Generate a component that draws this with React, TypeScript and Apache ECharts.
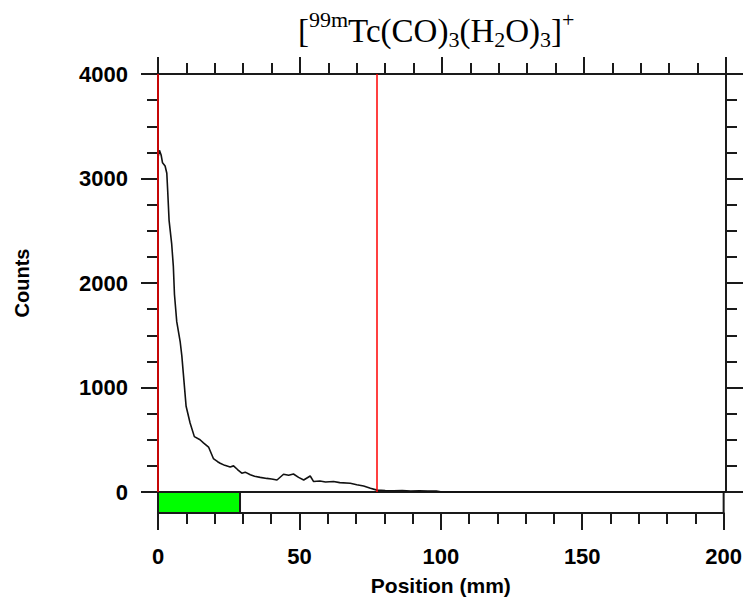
import React, { useEffect, useRef } from "react";
import * as echarts from "echarts";

const positions = [0, 0.5, 1.1, 1.6, 2.5, 3.1, 3.4, 3.9, 4.8, 5.4, 5.8, 6.6, 7.8, 8.4, 8.9, 9.9, 11.3, 12.8, 14.8, 16, 17.8, 19.5, 21, 21.9, 23.5, 25.4, 26.6, 28, 29.5, 30.7, 32.5, 34, 36, 38.3, 40, 41.9, 44.2, 46, 47.7, 49.5, 51.3, 53.6, 54.8, 57, 59, 61.8, 64, 67.7, 70, 72.4, 74.8, 77.1, 80, 83, 86, 89, 92, 95, 98, 100, 200];
const counts = [3200, 3270, 3225, 3150, 3120, 3050, 2890, 2600, 2380, 2160, 1890, 1630, 1440, 1300, 1140, 820, 660, 530, 500, 470, 430, 320, 290, 275, 255, 240, 250, 215, 180, 190, 165, 150, 140, 130, 125, 115, 170, 160, 172, 140, 115, 153, 100, 105, 95, 100, 90, 83, 70, 57, 35, 18, 14, 12, 15, 10, 12, 8, 10, 0, 0];
const regionMarkers = [0, 76.9];
const originBand = [[0, 29]];
const stripRange = [-200, 0];
const xTicks = [0, 50, 100, 150, 200];
const yTicks = [0, 1000, 2000, 3000, 4000];

const AXIS = "#1a1a1a";
const SANS = "Liberation Sans";
const SERIF = "Liberation Serif";

export default function App() {
  const ref = useRef<HTMLDivElement>(null);
  useEffect(() => {
    if (!ref.current) return;
    const chart = echarts.init(ref.current, null, { renderer: "svg" });
    const lineData = positions.map((p, i) => [p, counts[i]]);
    const tickStyle = (len: number) => ({ show: true, length: len, lineStyle: { color: AXIS, width: 2 } });
    const xMin = xTicks[0];
    const xMax = xTicks[xTicks.length - 1];
    const xInt = xTicks[1] - xTicks[0];
    const yMin = yTicks[0];
    const yMax = yTicks[yTicks.length - 1];
    const yInt = yTicks[1] - yTicks[0];
    chart.setOption({
      animation: false,
      backgroundColor: "#ffffff",
      title: {
        text: "{n|[}{sup|99m}{n|Tc(CO)}{sub|3}{n|(H}{sub|2}{n|O)}{sub|3}{n|]}{sup|+}",
        left: 298,
        top: 9,
        padding: 0,
        textStyle: {
          fontWeight: "normal",
          rich: {
            n: { fontFamily: SERIF, fontWeight: "normal", fontSize: 33, lineHeight: 43, color: "#000" },
            sup: { fontFamily: SERIF, fontWeight: "normal", fontSize: 22, height: 20, verticalAlign: "top", color: "#000" },
            sub: { fontFamily: SERIF, fontWeight: "normal", fontSize: 22, height: 25, verticalAlign: "bottom", color: "#000" },
          },
        },
      },
      grid: [
        { left: 158, top: 74, width: 568, height: 418, show: false },
        { left: 158, top: 492, width: 568, height: 21, show: true, borderColor: AXIS, borderWidth: 2, backgroundColor: "transparent" },
      ],
      xAxis: [
        {
          gridIndex: 0, type: "value", min: xMin, max: xMax, interval: xInt, position: "bottom",
          axisLine: { show: true, onZero: false, lineStyle: { color: AXIS, width: 2 } },
          axisTick: { show: false }, axisLabel: { show: false }, splitLine: { show: false },
        },
        {
          gridIndex: 0, type: "value", min: xMin, max: xMax, interval: xInt, position: "top",
          axisLine: { show: true, onZero: false, lineStyle: { color: AXIS, width: 2 } },
          axisTick: tickStyle(17), minorTick: { show: true, splitNumber: 5, length: 11, lineStyle: { color: AXIS, width: 2 } },
          axisLabel: { show: false }, splitLine: { show: false },
        },
        {
          gridIndex: 1, type: "value", min: xMin, max: xMax, interval: xInt, position: "bottom",
          axisLine: { show: true, onZero: false, lineStyle: { color: AXIS, width: 2 } },
          axisTick: tickStyle(17), minorTick: { show: true, splitNumber: 5, length: 11, lineStyle: { color: AXIS, width: 2 } },
          axisLabel: { show: true, margin: 32, fontFamily: SANS, fontWeight: "bold", fontSize: 22, color: "#000", formatter: (v: number) => String(v) },
          splitLine: { show: false },
          name: "Position (mm)", nameLocation: "middle", nameGap: 62,
          nameTextStyle: { fontFamily: SANS, fontWeight: "bold", fontSize: 21, color: "#000" },
        },
      ],
      yAxis: [
        {
          gridIndex: 0, type: "value", min: yMin, max: yMax, interval: yInt, position: "left",
          axisLine: { show: true, onZero: false, lineStyle: { color: AXIS, width: 2 } },
          axisTick: tickStyle(17), minorTick: { show: true, splitNumber: 4, length: 11, lineStyle: { color: AXIS, width: 2 } },
          axisLabel: { show: true, margin: 30, fontFamily: SANS, fontWeight: "bold", fontSize: 22, color: "#000", formatter: (v: number) => String(v) },
          splitLine: { show: false },
          name: "Counts", nameLocation: "middle", nameGap: 126,
          nameTextStyle: { fontFamily: SANS, fontWeight: "bold", fontSize: 20, color: "#000" },
        },
        {
          gridIndex: 0, type: "value", min: yMin, max: yMax, interval: yInt, position: "right",
          axisLine: { show: true, onZero: false, lineStyle: { color: AXIS, width: 2 } },
          axisTick: tickStyle(17), minorTick: { show: true, splitNumber: 4, length: 11, lineStyle: { color: AXIS, width: 2 } },
          axisLabel: { show: false }, splitLine: { show: false },
        },
        {
          gridIndex: 1, type: "value", min: stripRange[0], max: stripRange[1], show: false,
        },
      ],
      series: [
        {
          type: "line",
          xAxisIndex: 0,
          yAxisIndex: 0,
          data: lineData,
          showSymbol: false,
          symbol: "none",
          lineStyle: { color: "#111", width: 1.6 },
          z: 3,
          markLine: {
            silent: true,
            symbol: ["none", "none"],
            label: { show: false },
            lineStyle: { color: "#ff0000", width: 1.5, type: "solid" },
            data: regionMarkers.map((x) => ({ xAxis: x })),
            z: 4,
          },
        },
        {
          type: "custom",
          xAxisIndex: 2,
          yAxisIndex: 2,
          data: originBand,
          renderItem: (params: any, api: any) => {
            const p0 = api.coord([api.value(0), stripRange[1]]);
            const p1 = api.coord([api.value(1), stripRange[0]]);
            return {
              type: "rect",
              shape: { x: p0[0], y: p0[1], width: p1[0] - p0[0], height: p1[1] - p0[1] },
              style: { fill: "#00ff00", stroke: AXIS, lineWidth: 2 },
            };
          },
        },
      ],
    });
    return () => chart.dispose();
  }, []);
  return <div ref={ref} style={{ position: "absolute", left: 0, top: 0, width: 745, height: 604 }} />;
}
